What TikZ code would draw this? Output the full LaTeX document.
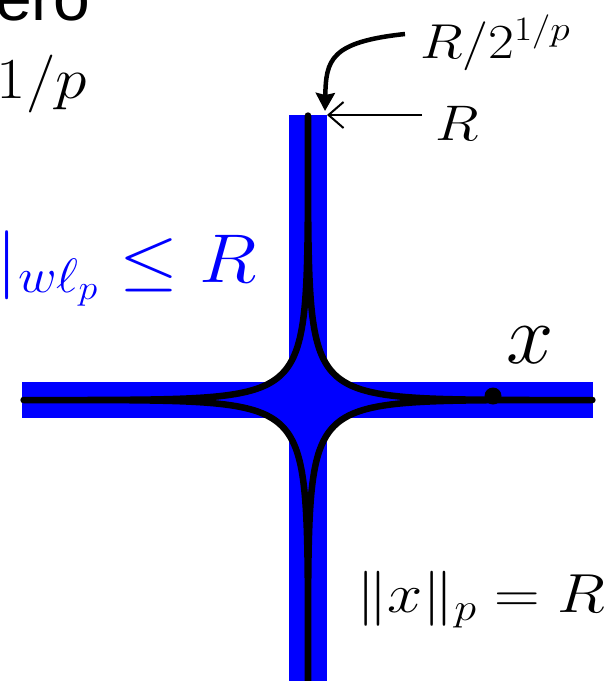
\RequirePackage{fix-cm}
\documentclass[tikz,border=0pt]{standalone}
\usepackage{fontspec}
\newfontfamily\sansf{Liberation Sans}
\usetikzlibrary{arrows.meta}
\definecolor{pureblue}{RGB}{0,0,255}
\begin{document}
\begin{tikzpicture}[x=1pt,y=-1pt,
  lab/.style={inner sep=0pt, outer sep=0pt, anchor=base west},
  bar/.style={fill=pureblue, draw=none},
  curve/.style={draw=black, line width=6.5pt, fill=pureblue, line join=round},
  thinarrow/.style={line width=2pt, -{Straight Barb[length=15pt,width=26pt,line width=2pt]}},
  thickarrow/.style={line width=4.5pt, -{Stealth[length=18pt,width=19pt,inset=2pt]}}]
\useasboundingbox (0,0) rectangle (609,681);
% bars
\fill[bar] (22,382) rectangle (593,418);
\fill[bar] (289,115) rectangle (327,690);
% star-shaped lp ball, p = 0.29
\begin{scope}[shift={(308,400)}]
\filldraw[curve]
  plot[domain=0.0005:0.9995, samples=300] ({285*pow(\x,3.45)}, {285*pow(1-\x,3.45)})
  -- plot[domain=0.0005:0.9995, samples=300] ({285*pow(1-\x,3.45)}, {-285*pow(\x,3.45)})
  -- plot[domain=0.0005:0.9995, samples=300] ({-285*pow(\x,3.45)}, {-285*pow(1-\x,3.45)})
  -- plot[domain=0.0005:0.9995, samples=300] ({-285*pow(1-\x,3.45)}, {285*pow(\x,3.45)})
  -- cycle;
\end{scope}
% point x
\fill[black] (493,396) circle (8.5);
% texts
\node[lab, font=\sansf\fontsize{66}{70}\selectfont] (ero) at (-5,20) {ero};
\node[lab, xscale=1.1, font=\fontsize{58}{64}\selectfont] (onep) at (-3,98) {$1/p$};
\node[lab, xscale=1.1, text=pureblue, font=\fontsize{69}{80}\selectfont] (wlp) at (-3,282) {$\vert_{w\ell_p}\le R$};
\node[lab, font=\fontsize{85}{90}\selectfont] (xlab) at (506,363) {$x$};
\node[lab, xscale=1.15, font=\fontsize{49}{60}\selectfont] (r2) at (420,58) {$R/2^{1/p}$};
\node[lab, xscale=1.15, font=\fontsize{50}{60}\selectfont] (r) at (435,140) {$R$};
\node[lab, xscale=1.15, font=\fontsize{55}{60}\selectfont] (norm) at (356,612) {$\|x\|_p = R$};
% arrows
\coordinate (tip) at (327,115);
\coordinate (rtail) at (422,115);
\coordinate (ctail) at (405,34);
\coordinate (ctip) at (325,111);
\draw[thinarrow] (rtail) -- (tip);
\draw[thickarrow] (ctail) .. controls (330,42) and (326,60) .. (ctip);
\end{tikzpicture}
\end{document}
